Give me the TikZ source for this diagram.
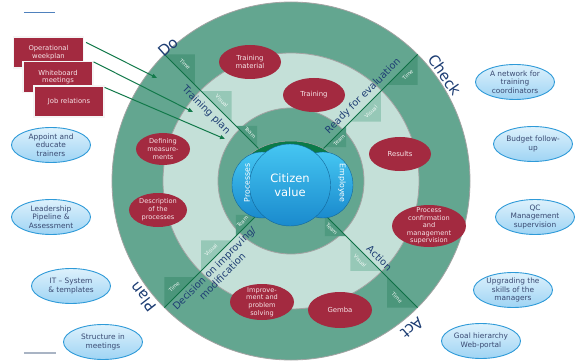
\documentclass[tikz,border=0pt]{standalone}
\usepackage{fontspec}
\setmainfont{DejaVu Sans}
\usetikzlibrary{shapes.geometric,calc,arrows.meta,shadows}

\definecolor{ringgreen}{HTML}{63A690}
\definecolor{ringlight}{HTML}{C4E0D8}
\definecolor{coregreen}{HTML}{0B7A48}
\definecolor{spokegreen}{HTML}{0F7046}
\definecolor{timec}{HTML}{4B967B}
\definecolor{visc}{HTML}{96C8B7}
\definecolor{teamc}{HTML}{4F9A80}
\definecolor{ringedge}{HTML}{A3A3A3}
\definecolor{maroon}{HTML}{A32A40}
\definecolor{pinktext}{HTML}{F6E3E7}
\definecolor{navy}{HTML}{1D3D73}
\definecolor{skyedge}{HTML}{2E9AD8}
\definecolor{skytop}{HTML}{DDF1FC}
\definecolor{skybot}{HTML}{9FD4F4}
\definecolor{skytext}{HTML}{3A4A72}
\definecolor{coretop}{HTML}{45C6F2}
\definecolor{corebot}{HTML}{1A8ACD}
\definecolor{arrowgreen}{HTML}{137A4B}
\definecolor{rulebluetop}{HTML}{4F81BD}
\definecolor{rulegray}{HTML}{A9B4C4}

\begin{document}
\begin{tikzpicture}[x=1pt,y=1pt,
  ringfill/.style={draw=ringedge, line width=0.8pt},
  mell/.style={ellipse, fill=maroon, inner sep=0pt},
  mtxt/.style={text=pinktext, font=\fontsize{6.9}{8.2}\selectfont, align=center, inner sep=0pt},
  sky/.style={ellipse, draw=skyedge, line width=0.9pt, top color=skytop, bottom color=skybot,
    minimum width=79pt, minimum height=35pt, inner sep=0pt,
    text=skytext, font=\fontsize{7.4}{8.7}\selectfont, align=center},
  phase/.style={text=navy, font=\fontsize{15}{15}\selectfont, inner sep=0pt},
  spokelab/.style={text=navy, font=\fontsize{9.8}{11.5}\selectfont, inner sep=0pt, align=center},
  trilab/.style={text=white, text opacity=0.9, font=\fontsize{5.2}{5.5}\selectfont, inner sep=0pt},
  task/.style={rectangle, fill=maroon, draw=white!92!gray, line width=1.2pt,
    minimum width=70pt, minimum height=31pt, text=pinktext,
    font=\fontsize{6.8}{7.6}\selectfont, align=center,
    drop shadow={shadow xshift=1pt, shadow yshift=-1pt, opacity=0.35}},
  feed/.style={draw=arrowgreen, line width=1pt, -{Triangle[length=5pt,width=4pt]}},
  core/.style={ellipse, draw=corebot!75!black, line width=0.4pt,
    top color=coretop, bottom color=corebot, inner sep=0pt},
  corelab/.style={text=white, inner sep=0pt}
]
\useasboundingbox (-291,-180) rectangle (286,181);

% concentric rings
\fill[ringgreen, ringfill] (0,0) circle (179);
\fill[ringlight, ringfill] (0,0) circle (128);
\fill[ringgreen, ringfill] (0,0) circle (73);
\fill[coregreen, draw=ringedge, line width=0.5pt] (0,0) ellipse (55 and 40);

% Time / Visual / Team wedges along each spoke
\foreach \ang/\rot/\flip in {135/-45/0, 45/45/1, -45/-45/0, -135/45/1}{
  \foreach \ra/\rb/\col/\txt in {179/136/timec/Time, 127/84/visc/Visual, 78/48/teamc/Team}{
    \path (\ang:\ra) coordinate (A) (\ang:\rb) coordinate (B);
    \ifnum\flip=0 \path (A -| B) coordinate (C); \else \path (B -| A) coordinate (C); \fi
    \fill[\col] (A) -- (B) -- (C) -- cycle;
    \node[trilab, rotate=\rot] (lab\ang\txt) at ($($(A)!0.5!(B)$)!0.36!(C)$) {\txt};
  }
}

% spokes
\foreach \ang in {135,45,-45,-135}
  \draw[spokegreen, line width=0.9pt] (\ang:46) -- (\ang:179);

% activities on the rings
\node[mell, minimum width=62pt, minimum height=34pt] (tm) at (-41,119) {};
\node[mtxt] (tmt) at (tm) {Training\\material};
\node[mell, minimum width=62pt, minimum height=34pt] (tr) at (23,86) {};
\node[mtxt] (trt) at (tr) {Training};
\node[mell, minimum width=62pt, minimum height=34pt] (res) at (109,27) {};
\node[mtxt] (rest) at (res) {Results};
\node[mell, minimum width=74pt, minimum height=42pt] (pc) at (138,-45) {};
\node[mtxt, font=\fontsize{6.6}{7.6}\selectfont] (pct) at (pc) {Process\\confirmation\\and\\management\\supervision};
\node[mell, minimum width=64pt, minimum height=36pt] (gem) at (49,-129) {};
\node[mtxt] (gemt) at (gem) {Gemba};
\node[mell, minimum width=64pt, minimum height=36pt] (imp) at (-29,-121) {};
\node[mtxt, font=\fontsize{6.6}{7.7}\selectfont] (impt) at (imp) {Improve-\\ment and\\problem\\solving};
\node[mell, minimum width=58pt, minimum height=34pt] (desc) at (-133,-29) {};
\node[mtxt, font=\fontsize{6.6}{8}\selectfont] (desct) at (desc) {Description\\of the\\processes};
\node[mell, minimum width=54pt, minimum height=32pt] (def) at (-128,32) {};
\node[mtxt, font=\fontsize{6.6}{8}\selectfont] (deft) at (def) {Defining\\measure-\\ments};

% core: citizen value
\node[core, minimum width=60pt, minimum height=66pt] (proc) at (-29,-4) {};
\node[core, minimum width=60pt, minimum height=66pt] (empl) at (32,-4) {};
\node[core, minimum width=81pt, minimum height=82pt] (cit) at (-1,-4) {};
\node[corelab, rotate=90, font=\fontsize{7.8}{8}\selectfont] (proct) at (-44,-2) {Processes};
\node[corelab, rotate=-90, font=\fontsize{7.8}{8}\selectfont] (emplt) at (51,-2) {Employee};
\node[corelab, align=center, font=\fontsize{11.5}{13.5}\selectfont] (citt) at (-1,-4) {Citizen\\value};

% labels along the spokes
\node[spokelab, rotate=-45] (tplan) at ($(135:110)+(225:10)$) {Training plan};
\node[spokelab, rotate=45] (ready) at ($(45:111)+(135:9)$) {Ready for evaluation};
\node[spokelab, rotate=-45] (action) at ($(-45:117)+(45:8)$) {Action};
\node[spokelab, rotate=45] (decide) at ($(-135:116)+(-45:13)$) {Decision on improving/\\modification};

% cycle phases
\node[phase, rotate=42] (do) at (-123,134) {Do};
\node[phase, rotate=-55] (check) at (154,106) {Check};
\node[phase, rotate=128] (plan) at (-148,-116) {Plan};
\node[phase, rotate=-140] (act) at (121,-147) {Act};

% inputs feeding the Do phase
\node[task] (b1) at (-242.5,128.5) {Operational\\weekplan};
\node[task] (b2) at (-233,104) {Whiteboard\\meetings};
\node[task] (b3) at (-222,79.5) {Job relations};
\coordinate (t1) at (-134,103);
\coordinate (t2) at (-98,69);
\coordinate (t3) at (-66,42);
\draw[feed] ([xshift=2pt,yshift=-6pt]b1.north east) -- (t1);
\draw[feed] ([yshift=-1pt]b2.north east) -- (t2);
\draw[feed] ([yshift=-2pt]b3.north east) -- (t3);

% supporting initiatives
\node[sky] (net) at (224,99) {A network for\\training\\coordinators};
\node[sky] (bud) at (242,37) {Budget follow-\\up};
\node[sky] (qc) at (244,-36) {QC\\Management\\supervision};
\node[sky] (upg) at (222,-109) {Upgrading the\\skills of the\\managers};
\node[sky] (goal) at (190,-160) {Goal hierarchy\\Web-portal};
\node[sky] (app) at (-240,36) {Appoint and\\educate\\trainers};
\node[sky] (lead) at (-240,-36) {Leadership\\Pipeline \&\\Assessment};
\node[sky] (its) at (-220,-105) {IT – System\\\& templates};
\node[sky] (struct) at (-188,-161) {Structure in\\meetings};

% page rules
\coordinate (r1a) at (-267,169); \coordinate (r1b) at (-236,169);
\coordinate (r2a) at (-267,-172); \coordinate (r2b) at (-235,-172);
\draw[rulebluetop, line width=0.8pt] (r1a) -- (r1b);
\draw[rulegray, line width=2pt] (r2a) -- (r2b);
\end{tikzpicture}
\end{document}
